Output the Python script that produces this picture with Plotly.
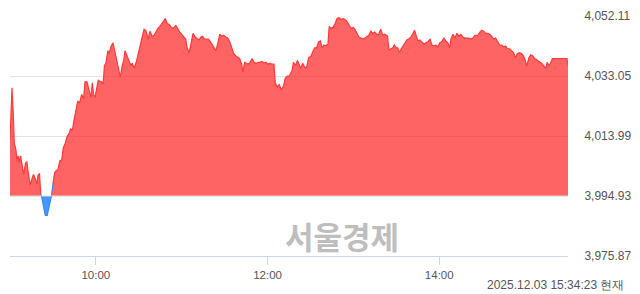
import numpy as np
import pandas as pd
import plotly.graph_objects as go

# minutes after 09:00 and index values (KOSPI intraday, 2025-12-03)
minutes = [0, 1.4, 2.3, 3.0, 4.2, 4.8, 5.7, 6.4, 7.4, 8.5, 9.5, 10.9, 11.8, 12.7, 14.1, 15.0, 16.4, 17.8, 18.7, 19.6,
           20.6, 21.5, 22.4, 23.8, 24.7, 26.0, 27.4, 28.9, 30.0, 31.2, 32.3, 33.5, 34.8, 36.2, 37.2, 38.6, 40.0, 41.4,
           42.3, 43.6, 44.5, 45.9, 47.3, 48.7, 50.1, 51.5, 52.4, 53.8, 54.7, 55.6, 56.6, 57.5, 58.4, 59.4, 60.8, 61.7,
           63.0, 64.2, 65.1, 66.0, 67.0, 68.4, 69.3, 70.7, 72.0, 73.4, 74.8, 76.2, 77.1, 78.5, 79.5, 80.4, 81.7, 83.1,
           84.5, 85.4, 86.8, 88.2, 89.6, 91.0, 92.3, 93.7, 95.1, 96.5, 97.9, 99.3, 100.7, 102.0, 103.4, 104.8, 106.2,
           107.6, 108.5, 109.9, 111.3, 112.7, 114.1, 115.9, 117.3, 118.7, 120.0, 121.4, 122.8, 123.8, 125.2, 126.6,
           127.9, 129.5, 130.9, 132.3, 133.2, 134.6, 136.0, 137.4, 138.7, 140.1, 141.5, 142.9, 143.9, 145.3, 146.6,
           148.0, 149.4, 150.8, 152.2, 153.6, 155.0, 156.3, 157.7, 159.1, 160.5, 161.9, 162.8, 164.0, 165.1, 166.5,
           167.8, 169.2, 170.6, 172.0, 173.4, 174.8, 176.2, 177.5, 178.9, 180.3, 181.7, 183.1, 184.5, 185.4, 186.8,
           188.2, 189.6, 191.0, 192.4, 193.8, 195.1, 197.2, 198.1, 199.5, 200.9, 202.3, 203.2, 204.6, 205.9, 207.3,
           208.7, 210.1, 211.5, 212.9, 214.3, 215.6, 217.0, 218.0, 219.4, 220.8, 222.2, 223.1, 224.4, 225.8, 227.2,
           228.6, 230.0, 231.4, 232.8, 234.1, 235.5, 236.9, 238.3, 239.7, 241.1, 242.5, 243.8, 245.2, 246.6, 248.0,
           249.4, 250.8, 252.2, 253.5, 254.9, 256.3, 257.7, 259.1, 260.5, 261.8, 263.9, 264.8, 266.2, 267.6, 268.6,
           270.0, 270.9, 272.2, 273.1, 274.5, 275.9, 277.3, 278.7, 280.1, 281.4, 282.8, 283.8, 285.2, 286.6, 288.0,
           289.3, 290.7, 292.1, 293.5, 294.9, 296.3, 297.7, 299.0, 300.4, 301.8, 303.2, 304.6, 306.0, 307.4, 308.2,
           309.6, 311.0, 312.4, 313.8, 315.2, 316.6, 318.0, 319.3, 320.7, 322.1, 323.5, 324.9, 327.0, 328.4, 329.7,
           331.1, 332.5, 333.9, 335.3, 336.7, 338.0, 339.4, 340.8, 342.2, 343.6, 345.0, 346.4, 347.7, 349.1, 350.5,
           351.9, 353.3, 354.7, 356.1, 357.4, 358.8, 360.2, 361.1, 362.5, 363.9, 365.3, 366.7, 368.0, 369.4, 370.8,
           372.2, 373.6, 374.5, 375.4, 376.8, 377.7, 379.1, 389.3, 390.0]

values = [4012.7, 4029.3, 4021.0, 4011.7, 4009.5, 4006.1, 4007.7, 4005.5, 4007.7, 4004.9, 4001.8, 4005.5, 4005.8,
          4002.4, 3998.4, 3999.9, 4001.8, 4000.3, 3998.7, 4001.5, 4002.1, 3995.6, 3994.1, 3990.7, 3988.8, 3988.8,
          3991.6, 3994.8, 3998.7, 4002.4, 4003.0, 4003.3, 4006.1, 4006.4, 4010.2, 4011.7, 4013.9, 4014.8, 4016.3,
          4015.7, 4018.5, 4021.9, 4025.0, 4024.7, 4027.2, 4025.9, 4031.2, 4031.2, 4029.6, 4027.8, 4026.2, 4030.9,
          4027.2, 4026.2, 4030.3, 4031.8, 4031.2, 4031.2, 4030.6, 4036.4, 4037.1, 4041.1, 4040.2, 4042.6, 4043.6,
          4040.5, 4038.0, 4034.9, 4032.7, 4036.4, 4038.0, 4041.1, 4039.5, 4038.0, 4036.4, 4037.1, 4035.5, 4037.4,
          4040.2, 4042.0, 4045.1, 4047.9, 4047.3, 4044.8, 4047.3, 4045.7, 4046.0, 4047.3, 4048.2, 4048.8, 4049.7,
          4051.0, 4051.3, 4049.7, 4049.4, 4048.5, 4048.2, 4049.1, 4047.9, 4047.0, 4046.3, 4045.4, 4044.8, 4042.0,
          4040.5, 4043.6, 4046.6, 4045.4, 4044.8, 4044.5, 4045.4, 4045.7, 4044.8, 4044.8, 4044.8, 4043.9, 4042.9,
          4041.7, 4041.1, 4043.6, 4046.3, 4045.7, 4046.0, 4045.4, 4045.1, 4043.9, 4041.7, 4040.2, 4039.5, 4038.9,
          4038.6, 4036.8, 4034.3, 4037.4, 4037.1, 4036.8, 4037.4, 4038.6, 4037.4, 4037.1, 4037.4, 4037.4, 4037.7,
          4037.1, 4037.4, 4036.8, 4037.1, 4036.8, 4036.8, 4030.9, 4029.6, 4030.3, 4028.7, 4029.6, 4032.4, 4033.0,
          4033.0, 4034.9, 4037.4, 4036.4, 4038.0, 4036.4, 4035.5, 4037.1, 4035.8, 4035.8, 4038.9, 4039.2, 4040.5,
          4042.0, 4042.0, 4043.9, 4044.2, 4042.0, 4042.9, 4042.6, 4043.2, 4048.8, 4048.2, 4048.5, 4049.7, 4051.3,
          4051.6, 4051.0, 4051.3, 4051.0, 4050.4, 4049.4, 4048.2, 4048.5, 4047.9, 4046.6, 4045.4, 4045.1, 4044.8,
          4045.1, 4045.7, 4046.0, 4047.3, 4046.6, 4047.0, 4046.3, 4046.3, 4047.9, 4046.0, 4046.3, 4045.7, 4041.4,
          4041.7, 4042.0, 4042.9, 4042.0, 4042.0, 4040.5, 4041.4, 4042.3, 4043.6, 4044.5, 4044.8, 4045.4, 4046.3,
          4047.6, 4046.0, 4044.2, 4044.5, 4043.9, 4043.2, 4043.6, 4043.9, 4044.8, 4042.9, 4042.6, 4042.9, 4042.3,
          4043.6, 4043.9, 4045.1, 4044.2, 4043.6, 4042.0, 4044.8, 4046.3, 4045.1, 4046.6, 4045.7, 4046.3, 4045.4,
          4045.1, 4045.1, 4045.1, 4044.8, 4045.1, 4046.0, 4046.0, 4047.0, 4047.6, 4047.3, 4046.6, 4046.6, 4046.3,
          4045.7, 4044.8, 4045.1, 4044.2, 4042.9, 4042.9, 4042.3, 4042.6, 4041.7, 4041.7, 4041.1, 4040.5, 4038.9,
          4040.2, 4040.5, 4040.2, 4039.5, 4038.0, 4036.1, 4038.6, 4039.8, 4039.5, 4038.6, 4038.3, 4037.7, 4037.4,
          4036.8, 4035.8, 4035.5, 4037.4, 4036.4, 4037.1, 4038.6, 4038.6, 4036.4]

prev_close = 3994.93
y_ticks = [3975.87, 3994.93, 4013.99, 4033.05, 4052.11]
x_tick_labels = ["10:00", "12:00", "14:00"]
session_date = "2025-12-03"
stamp = "2025.12.03 15:34:23 현재"
watermark = "서울경제"

start = pd.Timestamp(f"{session_date} 09:00:00")
t = [start + pd.Timedelta(minutes=m) for m in minutes]
v = np.array(values)
upper = np.maximum(v, prev_close)
lower = np.minimum(v, prev_close)
below = v < prev_close
blue_mask = below.copy()
blue_mask[1:] |= below[:-1]
blue_mask[:-1] |= below[1:]
red_line = np.where(v >= prev_close, v, np.nan)
blue_line = np.where(blue_mask, v, np.nan)
base = [prev_close] * len(v)

fig = go.Figure()
fig.add_trace(go.Scatter(x=t, y=base, mode="lines", line=dict(width=0), hoverinfo="skip", showlegend=False))
fig.add_trace(go.Scatter(x=t, y=upper, mode="lines", line=dict(width=0), fill="tonexty",
                         fillcolor="rgba(255,40,40,0.72)", showlegend=False))
fig.add_trace(go.Scatter(x=t, y=base, mode="lines", line=dict(width=0), hoverinfo="skip", showlegend=False))
fig.add_trace(go.Scatter(x=t, y=lower, mode="lines", line=dict(width=0), fill="tonexty",
                         fillcolor="rgba(50,140,255,0.9)", showlegend=False))
fig.add_trace(go.Scatter(x=t, y=red_line, mode="lines", line=dict(color="#ff3a3a", width=1.2),
                         connectgaps=False, showlegend=False))
fig.add_trace(go.Scatter(x=t, y=blue_line, mode="lines", line=dict(color="#3388f5", width=1.2),
                         connectgaps=False, showlegend=False))

fig.add_shape(type="line", xref="paper", x0=0, x1=1, yref="y", y0=prev_close, y1=prev_close,
              line=dict(color="rgba(235,225,225,0.9)", width=1), layer="above")

xt = [pd.Timestamp(f"{session_date} {s}:00") for s in x_tick_labels]
fig.update_xaxes(range=[start, start + pd.Timedelta(minutes=390)], tickvals=xt, ticktext=x_tick_labels,
                 showgrid=False, showline=True, linecolor="#cdd6e8", linewidth=1,
                 ticks="outside", ticklen=8, tickcolor="#cdd6e8",
                 tickfont=dict(family="Liberation Sans, Arial", size=11.5, color="#555"), zeroline=False)
fig.update_yaxes(range=[y_ticks[0], y_ticks[-1]], side="right", tickvals=y_ticks,
                 ticktext=[f"{y:,.2f}" for y in y_ticks], showgrid=True, gridcolor="#e3e3e3", gridwidth=1,
                 ticks="outside", ticklen=13, tickcolor="rgba(0,0,0,0)", zeroline=False, showline=False,
                 tickfont=dict(family="Liberation Sans, Arial", size=12, color="#555"))

fig.add_annotation(text=watermark, xref="paper", yref="paper", x=(345 - 10) / 563, y=(256 - 235) / 247,
                   showarrow=False, font=dict(family="Noto Sans CJK KR", size=31, color="#bebebe", weight="bold"),
                   xanchor="center", yanchor="middle")
fig.add_annotation(text=stamp, xref="paper", yref="paper", x=(632 - 10) / 563, y=(256 - 286) / 247,
                   showarrow=False, font=dict(family="Liberation Sans, Arial", size=12, color="#555"),
                   xanchor="right", yanchor="middle")

fig.update_layout(width=640, height=294, margin=dict(l=10, r=67, t=9, b=38),
                  paper_bgcolor="white", plot_bgcolor="white", showlegend=False)
fig.write_html("out.html")
